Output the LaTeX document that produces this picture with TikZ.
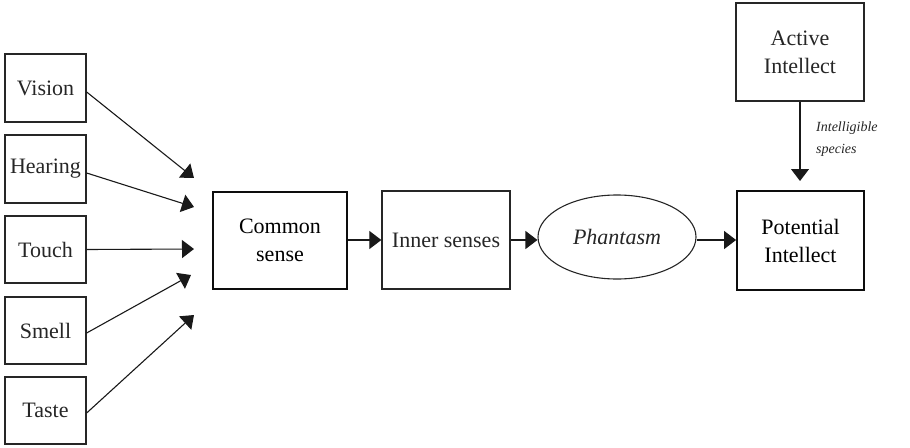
\documentclass[tikz,border=0pt]{standalone}
\usepackage{fontspec}
\setmainfont{Liberation Serif}
\usetikzlibrary{arrows.meta,shapes.geometric}
\begin{document}
\begin{tikzpicture}[x=1pt,y=-1pt,
  box/.style={draw=black!85,line width=1.3pt,inner sep=0pt,text=black!85,font=\fontsize{22}{28}\selectfont,align=center},
  mainbox/.style={box,draw=black!95,line width=1.8pt,text=black},
  conn/.style={draw=black!90,line width=1.1pt,-{Triangle[length=12pt,width=18pt]}}]
\useasboundingbox (0,0) rectangle (910,447);
% sense boxes
\node[box,minimum width=81pt,minimum height=68pt] (vis) at (45.5,88) {Vision};
\node[box,minimum width=81pt,minimum height=68pt] (hear) at (45.5,169) {Hearing};
\node[box,minimum width=81pt,minimum height=67pt] (touch) at (45.5,249.5) {Touch};
\node[box,minimum width=81pt,minimum height=67pt] (smell) at (45.5,330.5) {Smell};
\node[box,minimum width=81pt,minimum height=67pt] (taste) at (45.5,410.5) {Taste};
% main chain
\node[mainbox,minimum width=134pt,minimum height=97pt] (cs) at (280,240.5) {Common\\sense};
\node[box,minimum width=128pt,minimum height=98pt] (inner) at (446,240) {Inner senses};
\node[draw=black!85,line width=1.1pt,ellipse,minimum width=158pt,minimum height=84pt,inner sep=0pt,text=black!85,font=\fontsize{22}{28}\selectfont\itshape] (ph) at (617,237) {Phantasm};
\node[mainbox,minimum width=127pt,minimum height=99pt] (pot) at (800.5,240.5) {Potential\\Intellect};
\node[box,minimum width=128pt,minimum height=98pt] (act) at (800,52) {Active\\Intellect};
% arrow end coordinates
\coordinate (e1) at (194,178);
\coordinate (e2) at (194,207);
\coordinate (e3) at (194,249);
\coordinate (e4) at (191,275);
\coordinate (e5) at (194,315);
\coordinate (e6) at (800,181);
% arrows
\draw[conn] (vis.east |- 0,92) -- (e1);
\draw[conn] (hear.east |- 0,173) -- (e2);
\draw[conn] (touch.east) -- (e3);
\draw[conn] (smell.east |- 0,333) -- (e4);
\draw[conn] (taste.east |- 0,413) -- (e5);
\draw[conn] (cs.east |- 0,240) -- (inner.west |- 0,240);
\draw[conn] (inner.east |- 0,240) -- (ph.west |- 0,240);
\draw[conn] (ph.east |- 0,240) -- (pot.west |- 0,240);
\draw[conn] (act.south) -- (e6);
\node[anchor=west,align=left,inner sep=0pt,text=black!85,font=\fontsize{14}{22}\selectfont\itshape] (lbl) at (816,139) {Intelligible\\species};
\end{tikzpicture}
\end{document}
